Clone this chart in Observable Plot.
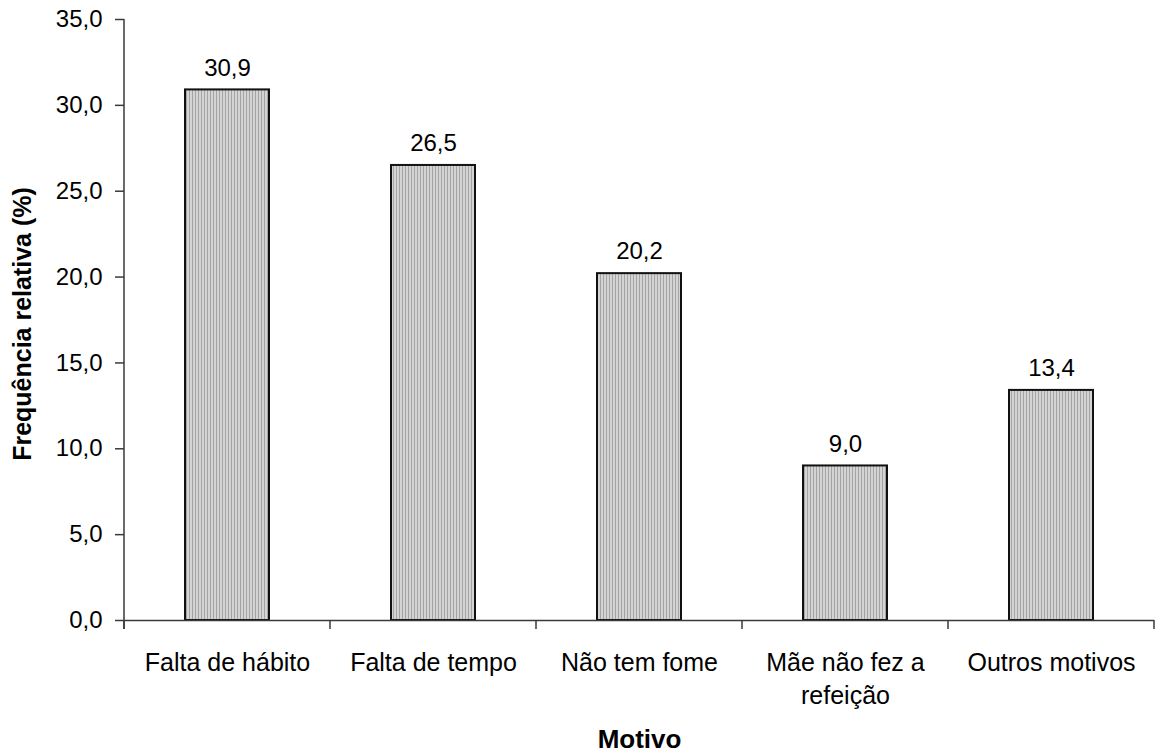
<!DOCTYPE html>
<html lang="pt">
<head>
<meta charset="utf-8">
<script src="https://cdn.jsdelivr.net/npm/d3@7"></script>
<script src="https://cdn.jsdelivr.net/npm/@observablehq/plot@0.6"></script>
<style>
  html, body { margin: 0; padding: 0; background: #fff; }
  #grafico { width: 1155px; height: 753px; }
</style>
</head>
<body>
<div id="grafico"></div>
<script>
// Motivos e frequências relativas (%)
const motivos = ["Falta de hábito", "Falta de tempo", "Não tem fome", "Mãe não fez a\nrefeição", "Outros motivos"];
const frequencias = [30.9, 26.5, 20.2, 9.0, 13.4];
const ticksY = [0, 5, 10, 15, 20, 25, 30, 35];
const tituloY = "Frequência relativa (%)";
const tituloX = "Motivo";

const dados = motivos.map((m, i) => ({motivo: m, freq: frequencias[i]}));
const fmt = v => v.toFixed(1).replace(".", ",");

const fonte = "'Liberation Sans', Arial, Helvetica, sans-serif";
const corEixo = "#3a3a3a";

const chart = Plot.plot({
  width: 1155,
  height: 753,
  marginLeft: 124,
  marginRight: 1,
  marginTop: 19,
  marginBottom: 133,
  style: {fontFamily: fonte, fontSize: "24px", color: "#000", background: "#fff", overflow: "visible"},
  x: {domain: motivos, paddingInner: 0.59, paddingOuter: 0.295, label: null},
  y: {domain: [0, 35], label: null},
  marks: [
    Plot.barY(dados, {x: "motivo", y: "freq", fill: "url(#listras)", stroke: "#111", strokeWidth: 2}),
    Plot.text(dados, {x: "motivo", y: "freq", text: d => fmt(d.freq), dy: -22, fontSize: 24, fill: "#000"}),
    Plot.ruleY([0], {stroke: corEixo, strokeWidth: 1.5}),
    Plot.axisY({ticks: ticksY, tickFormat: fmt, tickSize: 9, tickPadding: 13, fontSize: 24, stroke: corEixo, strokeWidth: 1.5, label: null}),
    Plot.axisX({tickSize: 0, tickPadding: 27, fontSize: 25, lineHeight: 1.31, label: null}),
    Plot.text([tituloY], {frameAnchor: "left", textAnchor: "middle", lineAnchor: "middle", rotate: -90, dx: -102, dy: 4, fontSize: 25, fontWeight: "bold", fill: "#000"}),
    Plot.text([tituloX], {frameAnchor: "bottom", textAnchor: "middle", lineAnchor: "middle", dy: 119, fontSize: 26, fontWeight: "bold", fill: "#000"})
  ]
});

const svg = d3.select(chart);

// Padrão de listras verticais para o preenchimento das barras
const defs = svg.insert("defs", ":first-child");
const pat = defs.append("pattern")
  .attr("id", "listras")
  .attr("patternUnits", "userSpaceOnUse")
  .attr("width", 3).attr("height", 3);
pat.append("rect").attr("width", 3).attr("height", 3).attr("fill", "#d4d4d4");
pat.append("rect").attr("width", 1).attr("height", 3).attr("fill", "#a4a4a4");

// Linha do eixo Y e marcas de divisão entre categorias no eixo X
const sx = chart.scale("x");
const sy = chart.scale("y");
const y0 = sy.apply(0);
const y1 = sy.apply(35);
const gap = (sx.step - sx.bandwidth) / 2;
const limites = motivos.map(m => sx.apply(m) - gap);
limites.push(sx.apply(motivos[motivos.length - 1]) + sx.bandwidth + gap);

const g = svg.append("g").attr("stroke", corEixo).attr("stroke-width", 1.5);
g.append("line")
  .attr("x1", limites[0]).attr("x2", limites[0])
  .attr("y1", y1).attr("y2", y0 + 9);
g.selectAll("line.div").data(limites).join("line")
  .attr("class", "div")
  .attr("x1", d => d).attr("x2", d => d)
  .attr("y1", y0).attr("y2", y0 + 9);

document.getElementById("grafico").appendChild(chart);
</script>
</body>
</html>
